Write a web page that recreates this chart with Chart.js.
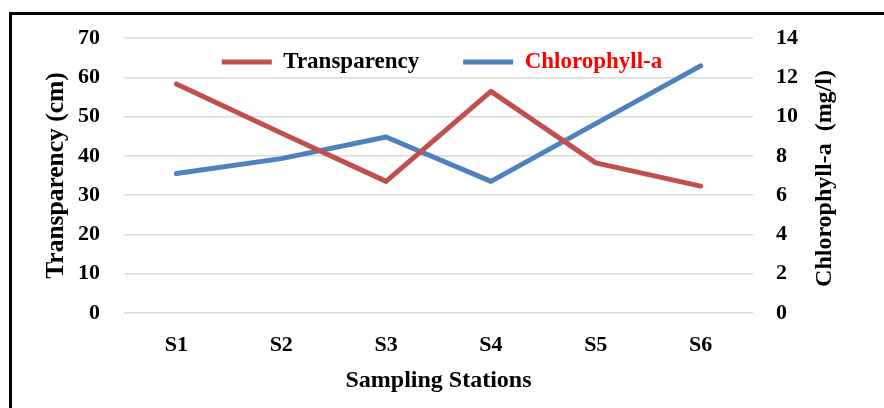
<!DOCTYPE html>
<html>
<head>
<meta charset="utf-8">
<script src="https://cdn.jsdelivr.net/npm/chart.js@4"></script>
<style>
  html, body { margin: 0; padding: 0; background: #fff; overflow: hidden; }
  #frame {
    position: absolute; left: 9px; top: 12px; width: 1000px; height: 500px;
    border-top: 3px solid #000; border-left: 3px solid #000;
  }
  #chart { position: absolute; left: 0; top: 0; }
</style>
</head>
<body>
<div id="frame"></div>
<canvas id="chart" width="884" height="408"></canvas>
<script>
const stations = ["S1", "S2", "S3", "S4", "S5", "S6"];
const transparency = [58.3, 45.8, 33.5, 56.4, 38.2, 32.3];
const chlorophyll = [7.1, 7.86, 8.96, 6.7, 9.64, 12.58];
const legendColors = ["#000000", "#ff0000"];
const rightTitle = "Chlorophyll-a  (mg/l)";

const serif = "'Liberation Serif', 'Times New Roman', serif";
const legendPad = 44;
const legendSize = 23;

// legend sits inside the plot, just under the top gridline
const legendInside = {
  id: "legendInside",
  afterLayout(chart) {
    const lg = chart.legend;
    const h = lg.height;
    lg.top = chart.chartArea.top + 24 - legendPad - legendSize / 2;
    lg.bottom = lg.top + h;
  }
};

// right axis title reads bottom-to-top like the left one
const rightAxisTitle = {
  id: "rightAxisTitle",
  afterDraw(chart) {
    const s = chart.scales.y1;
    const c = chart.ctx;
    c.save();
    c.translate(s.right - 59, (chart.chartArea.top + chart.chartArea.bottom) / 2 + 3);
    c.rotate(-Math.PI / 2);
    c.font = "bold 24px " + serif;
    c.fillStyle = "#000";
    c.textAlign = "center";
    c.textBaseline = "middle";
    c.fillText(rightTitle, 0, 0);
    c.restore();
  }
};

const ctx = document.getElementById("chart").getContext("2d");
new Chart(ctx, {
  type: "line",
  data: {
    labels: stations,
    datasets: [{
      label: "Transparency",
      data: transparency,
      borderColor: "#c0504d",
      backgroundColor: "#c0504d",
      borderWidth: 5,
      borderJoinStyle: "round",
      borderCapStyle: "round",
      pointRadius: 0,
      tension: 0,
      yAxisID: "y"
    }, {
      label: "Chlorophyll-a",
      data: chlorophyll,
      borderColor: "#4f81bd",
      backgroundColor: "#4f81bd",
      borderWidth: 5,
      borderJoinStyle: "round",
      borderCapStyle: "round",
      pointRadius: 0,
      tension: 0,
      yAxisID: "y1"
    }]
  },
  plugins: [legendInside, rightAxisTitle],
  options: {
    responsive: false,
    devicePixelRatio: 1,
    animation: false,
    // negative top padding cancels the legend's height so the plot starts at y=38
    layout: { padding: { top: 38 - (legendSize + legendPad + 10), left: 0, right: 0, bottom: 0 } },
    plugins: {
      tooltip: { enabled: false },
      legend: {
        position: "top",
        align: "center",
        labels: {
          usePointStyle: true,
          pointStyle: "line",
          pointStyleWidth: 50,
          padding: legendPad,
          font: { family: serif, size: legendSize, weight: "bold" },
          generateLabels: (chart) =>
            Chart.defaults.plugins.legend.labels.generateLabels(chart)
              .map((item, i) => ({ ...item, fontColor: legendColors[i] }))
        }
      }
    },
    scales: {
      x: {
        offset: true,
        grid: { display: false, drawTicks: false },
        border: { display: false },
        ticks: {
          padding: 19,
          color: "#000",
          font: { family: serif, size: 22, weight: "bold" }
        },
        title: {
          display: true,
          text: "Sampling Stations",
          color: "#000",
          font: { family: serif, size: 24, weight: "bold", lineHeight: 1 },
          padding: { top: 0, bottom: 15 }
        },
        afterFit: (s) => { s.height = 95; }
      },
      y: {
        position: "left",
        min: 0,
        max: 70,
        ticks: {
          stepSize: 10,
          padding: 24,
          color: "#000",
          font: { family: serif, size: 22, weight: "bold" }
        },
        grid: { color: "#d9d9d9", lineWidth: 1.5, drawTicks: false },
        border: { display: false },
        title: {
          display: true,
          text: "Transparency (cm)",
          color: "#000",
          font: { family: serif, size: 25.5, weight: "bold", lineHeight: 1 },
          padding: { top: 44, bottom: 0 }
        },
        afterFit: (s) => { s.width = 124; }
      },
      y1: {
        position: "right",
        min: 0,
        max: 14,
        ticks: {
          stepSize: 2,
          padding: 23,
          color: "#000",
          font: { family: serif, size: 22, weight: "bold" }
        },
        grid: { drawOnChartArea: false, drawTicks: false },
        border: { display: false },
        title: { display: false },
        afterFit: (s) => { s.width = 131; }
      }
    }
  }
});
</script>
</body>
</html>
